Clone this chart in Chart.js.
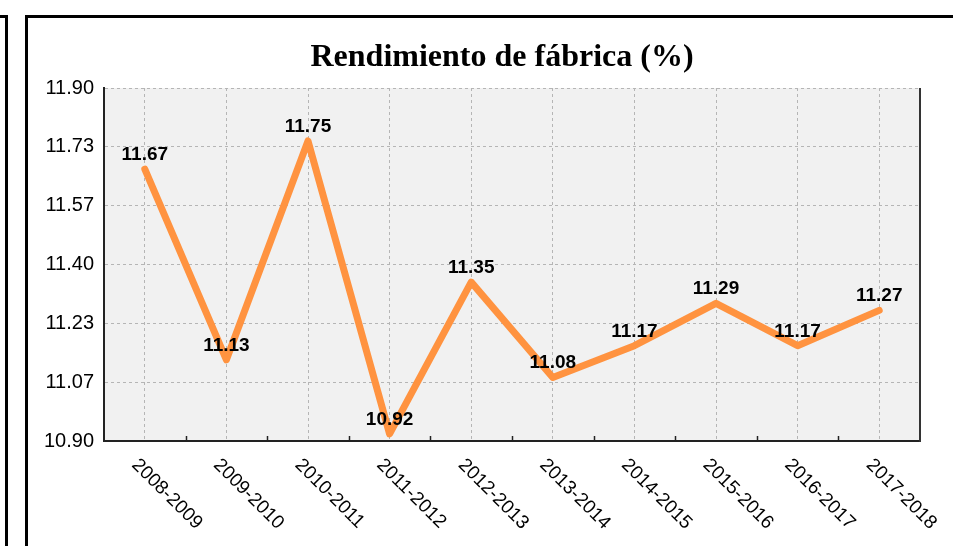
<!DOCTYPE html>
<html lang="es">
<head>
<meta charset="UTF-8">
<title>Rendimiento de fábrica</title>
<script src="https://cdn.jsdelivr.net/npm/chart.js"></script>
<style>
    body { margin: 0; background: #fff; width: 953px; height: 546px; overflow: hidden; position: relative; }
    .marco { position: absolute; box-sizing: border-box; border: 3px solid #000; }
    #prev { left: -20px; top: 15px; width: 28px; height: 600px; }
    #main { left: 25px; top: 15px; width: 1000px; height: 600px; }
    #grafico { position: absolute; left: 0; top: 0; }
</style>
</head>
<body>
<div class="marco" id="prev"></div>
<div class="marco" id="main"></div>
<canvas id="grafico" width="953" height="546"></canvas>

<script>
    const titulo = 'Rendimiento de fábrica (%)';
    const campanas = ['2008-2009', '2009-2010', '2010-2011', '2011-2012', '2012-2013',
        '2013-2014', '2014-2015', '2015-2016', '2016-2017', '2017-2018'];
    const rendimiento = [11.67, 11.13, 11.75, 10.92, 11.35, 11.08, 11.17, 11.29, 11.17, 11.27];
    const yTicks = [10.90, 11.0667, 11.2333, 11.40, 11.5667, 11.7333, 11.90];
    const yTickLabels = ['10.90', '11.07', '11.23', '11.40', '11.57', '11.73', '11.90'];

    const naranja = '#ff9340';

    // fondo gris, borde derecho, marcas del eje x, etiquetas giradas y valores
    const extras = {
        id: 'extras',
        beforeDraw(chart) {
            const a = chart.chartArea;
            const ctx = chart.ctx;
            ctx.save();
            ctx.fillStyle = '#f1f1f1';
            ctx.fillRect(a.left, a.top, a.right - a.left, a.bottom - a.top);
            ctx.restore();
        },
        afterDraw(chart) {
            const a = chart.chartArea;
            const ctx = chart.ctx;
            const x = chart.scales.x;
            ctx.save();

            // borde derecho
            ctx.strokeStyle = '#333';
            ctx.lineWidth = 2;
            ctx.beginPath();
            ctx.moveTo(a.right, a.top);
            ctx.lineTo(a.right, a.bottom + 1);
            ctx.stroke();

            // marcas entre categorías
            ctx.lineWidth = 1.5;
            ctx.strokeStyle = '#222';
            for (let i = 0; i < campanas.length - 1; i++) {
                const px = Math.round(x.getPixelForValue(i + 0.5)) + 0.5;
                ctx.beginPath();
                ctx.moveTo(px, a.bottom);
                ctx.lineTo(px, a.bottom - 5);
                ctx.stroke();
            }

            // etiquetas del eje x giradas 45°
            ctx.fillStyle = '#000';
            ctx.font = '19px "Liberation Sans", Arial, sans-serif';
            ctx.textAlign = 'left';
            ctx.textBaseline = 'middle';
            campanas.forEach((c, i) => {
                const px = x.getPixelForValue(i);
                ctx.save();
                ctx.translate(px - 10, a.bottom + 21);
                ctx.rotate(Math.PI / 4);
                ctx.fillText(c, 0, 0);
                ctx.restore();
            });

            // valores sobre los puntos
            ctx.font = 'bold 19px "Liberation Sans", Arial, sans-serif';
            ctx.textAlign = 'center';
            ctx.textBaseline = 'alphabetic';
            const meta = chart.getDatasetMeta(0);
            meta.data.forEach((p, i) => {
                ctx.fillText(rendimiento[i].toFixed(2), p.x, p.y - 9);
            });

            // título
            ctx.font = 'bold 32px "Liberation Serif", "DejaVu Serif", serif';
            ctx.textAlign = 'center';
            ctx.fillText(titulo, 502, 66);

            ctx.restore();
        }
    };

    new Chart(document.getElementById('grafico'), {
        type: 'line',
        data: {
            labels: campanas,
            datasets: [{
                label: 'Rendimiento',
                data: rendimiento,
                borderColor: naranja,
                borderWidth: 7,
                borderCapStyle: 'round',
                borderJoinStyle: 'round',
                pointRadius: 0,
                tension: 0
            }]
        },
        options: {
            responsive: false,
            animation: false,
            layout: { padding: { left: 0, right: 33, top: 88, bottom: 0 } },
            plugins: {
                legend: { display: false },
                title: { display: false },
                tooltip: { enabled: false }
            },
            scales: {
                x: {
                    offset: true,
                    grid: {
                        offset: false,
                        color: '#b5b5b5',
                        lineWidth: 1,
                        drawTicks: false
                    },
                    border: { display: true, color: '#222', width: 2, dash: [3, 3] },
                    ticks: { display: false },
                    afterFit(scale) { scale.height = 105; }
                },
                y: {
                    min: 10.90,
                    max: 11.90,
                    afterBuildTicks(scale) {
                        scale.ticks = yTicks.map(v => ({ value: v }));
                    },
                    grid: {
                        color: '#b5b5b5',
                        lineWidth: 1,
                        drawTicks: false
                    },
                    border: { display: true, color: '#222', width: 2, dash: [3, 3] },
                    ticks: {
                        padding: 10,
                        color: '#000',
                        font: { family: '"Liberation Sans", Arial, sans-serif', size: 20 },
                        callback: (v, i) => yTickLabels[i]
                    },
                    afterFit(scale) { scale.width = 104; }
                }
            }
        },
        plugins: [extras]
    });
</script>
</body>
</html>
